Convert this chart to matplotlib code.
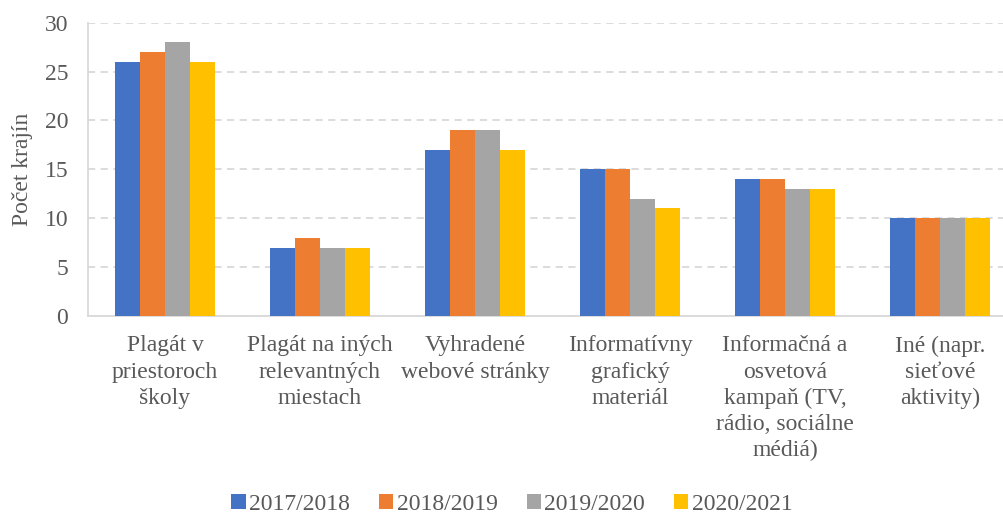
import numpy as np
import matplotlib.pyplot as plt

# Údaje: počet krajín podľa typu propagácie a školského roka
kategorie = [
    "Plagát v\npriestoroch\nškoly",
    "Plagát na iných\nrelevantných\nmiestach",
    "Vyhradené\nwebové stránky",
    "Informatívny\ngrafický\nmateriál",
    "Informačná a\nosvetová\nkampaň (TV,\nrádio, sociálne\nmédiá)",
    "Iné (napr.\nsieťové\naktivity)",
]
roky = ["2017/2018", "2018/2019", "2019/2020", "2020/2021"]
r2017 = [26, 7, 17, 15, 14, 10]
r2018 = [27, 8, 19, 15, 14, 10]
r2019 = [28, 7, 19, 12, 13, 10]
r2020 = [26, 7, 17, 11, 13, 10]
farby = ["#4472C4", "#ED7D31", "#A5A5A5", "#FFC000"]

plt.rcParams['font.family'] = ['Liberation Serif', 'DejaVu Serif']
text_farba = "#595959"
mriezka = "#D9D9D9"
velkost = 17

fig = plt.figure(figsize=(10.04, 5.15), dpi=100)
ax = fig.add_axes([87.5 / 1004, 1 - 316 / 515, 930 / 1004, 293.3 / 515])

x = np.arange(len(kategorie))
sirka = 25 / 155
for i, (hodnoty, rok) in enumerate(zip([r2017, r2018, r2019, r2020], roky)):
    ax.bar(x + (i - 1.5) * sirka, hodnoty, width=sirka, color=farby[i],
           label=rok, zorder=3)

ax.set_xlim(-0.5, len(kategorie) - 0.5)
ax.set_ylim(0, 30)
ax.set_yticks(range(0, 31, 5))
ax.set_xticks(x)
ax.set_xticklabels(kategorie, fontsize=velkost, color=text_farba, linespacing=1.32)
ax.tick_params(axis='y', labelsize=velkost, labelcolor=text_farba, length=0, pad=14)
ax.tick_params(axis='x', length=0, pad=14)

ax.yaxis.grid(True, color=mriezka, linestyle=(0, (4, 3)), linewidth=1.3, zorder=0)
ax.set_axisbelow(True)
for s in ['top', 'right']:
    ax.spines[s].set_visible(False)
for s in ['left', 'bottom']:
    ax.spines[s].set_color(mriezka)
    ax.spines[s].set_linewidth(1.3)

ax.set_ylabel("Počet krajín", fontsize=velkost, color=text_farba)
ax.yaxis.set_label_coords(-54.5 / 930, 0.5)

fig.legend(loc='center', bbox_to_anchor=(512 / 1004, 1 - 504 / 515), ncol=4, frameon=False,
           fontsize=velkost, labelcolor=text_farba, handlelength=0.6, handleheight=0.6,
           handletextpad=0.15, columnspacing=1.23)

fig.savefig("out.png", dpi=100)
